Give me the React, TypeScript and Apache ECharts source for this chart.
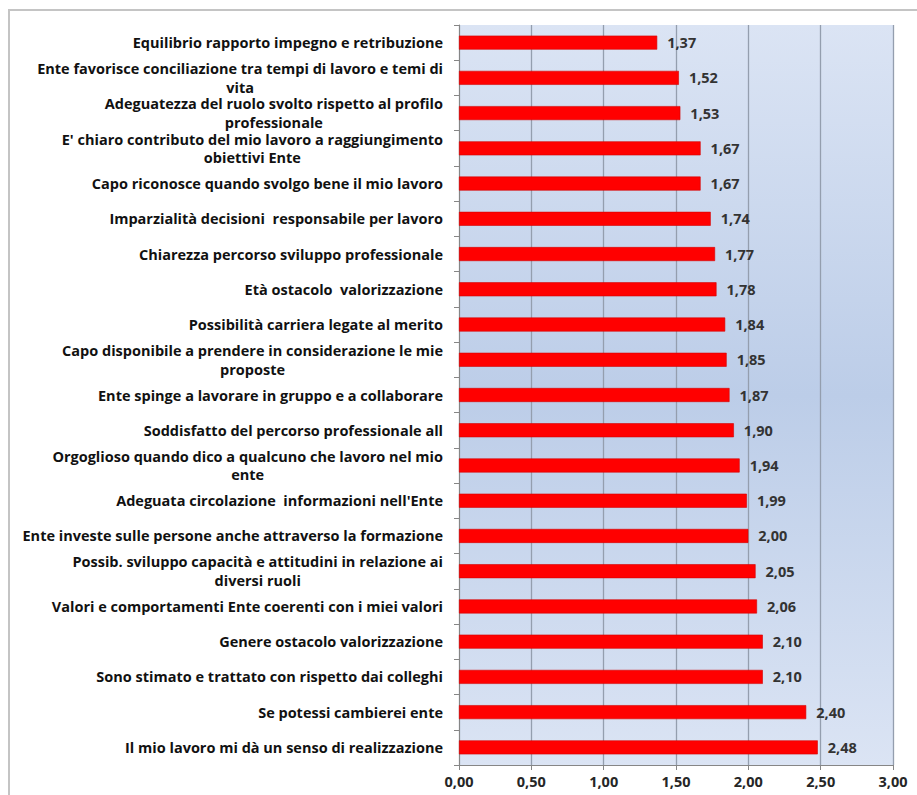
import React, { useEffect, useRef } from "react";
import * as echarts from "echarts";

const categories: string[] = [
  "Equilibrio rapporto impegno e retribuzione",
  "Ente favorisce conciliazione tra tempi di lavoro e temi di\nvita",
  "Adeguatezza del ruolo svolto rispetto al profilo\nprofessionale",
  "E' chiaro contributo del mio lavoro a raggiungimento\nobiettivi Ente",
  "Capo riconosce quando svolgo bene il mio lavoro",
  "Imparzialità decisioni  responsabile per lavoro",
  "Chiarezza percorso sviluppo professionale",
  "Età ostacolo  valorizzazione",
  "Possibilità carriera legate al merito",
  "Capo disponibile a prendere in considerazione le mie\nproposte",
  "Ente spinge a lavorare in gruppo e a collaborare",
  "Soddisfatto del percorso professionale all",
  "Orgoglioso quando dico a qualcuno che lavoro nel mio\nente",
  "Adeguata circolazione  informazioni nell'Ente",
  "Ente investe sulle persone anche attraverso la formazione",
  "Possib. sviluppo capacità e attitudini in relazione ai\ndiversi ruoli",
  "Valori e comportamenti Ente coerenti con i miei valori",
  "Genere ostacolo valorizzazione",
  "Sono stimato e trattato con rispetto dai colleghi",
  "Se potessi cambierei ente",
  "Il mio lavoro mi dà un senso di realizzazione",
];

const values: number[] = [
  1.37, 1.52, 1.53, 1.67, 1.67, 1.74, 1.77, 1.78, 1.84, 1.85, 1.87, 1.9, 1.94,
  1.99, 2.0, 2.05, 2.06, 2.1, 2.1, 2.4, 2.48,
];

const xMin = 0;
const xMax = 3;
const xStep = 0.5;

const fmt = (v: number) => v.toFixed(2).replace(".", ",");

const FONT = "'Open Sans', Lato, sans-serif";

export default function App() {
  const ref = useRef<HTMLDivElement>(null);
  useEffect(() => {
    if (!ref.current) return;
    const chart = echarts.init(ref.current, undefined, { renderer: "svg" });
    chart.setOption({
      animation: false,
      backgroundColor: "#ffffff",
      grid: { left: 459, right: 24, top: 25, bottom: 30, containLabel: false },
      xAxis: {
        type: "value",
        min: xMin,
        max: xMax,
        interval: xStep,
        axisLine: { show: true, lineStyle: { color: "#868686", width: 1 } },
        axisTick: { show: true, length: 5, lineStyle: { color: "#868686" } },
        splitLine: { show: true, lineStyle: { color: "#949eae", width: 1.3 } },
        axisLabel: {
          formatter: (v: number) => fmt(v),
          color: "#262626",
          fontFamily: FONT,
          fontWeight: "bold",
          fontSize: 14.5,
          margin: 9,
        },
      },
      yAxis: {
        type: "category",
        data: categories,
        inverse: true,
        axisLine: { show: true, lineStyle: { color: "#868686", width: 1 } },
        axisTick: { show: true, length: 5, lineStyle: { color: "#868686" } },
        axisLabel: {
          margin: 16,
          align: "right",
          formatter: (v: string) =>
            v
              .split("\n")
              .map((l) => `{c|${l}}`)
              .join("\n"),
          rich: {
            c: {
              align: "center",
              fontFamily: FONT,
              fontWeight: "bold",
              fontSize: 14.5,
              color: "#111111",
              lineHeight: 18.5,
            },
          },
        },
      },
      series: [
        {
          type: "bar",
          data: values,
          barWidth: 14,
          itemStyle: {
            color: "#ff0000",
            borderColor: "#d40000",
            borderWidth: 0.6,
          },
          label: {
            show: true,
            position: "right",
            distance: 10,
            formatter: (p: any) => fmt(p.value),
            color: "#333333",
            fontFamily: FONT,
            fontWeight: "bold",
            fontSize: 14.5,
          },
        },
      ],
    });
    const gridRect = (chart as any)
      .getModel()
      .getComponent("grid")
      .coordinateSystem.getRect();
    chart.setOption({
      graphic: [
        {
          type: "rect",
          shape: { x: 9, y: 10, width: 940, height: 820 },
          style: { fill: "none", stroke: "#c4c4c4", lineWidth: 2 },
          silent: true,
          z: -10,
        },
        {
          type: "rect",
          shape: {
            x: gridRect.x,
            y: gridRect.y,
            width: gridRect.width,
            height: gridRect.height,
          },
          style: {
            fill: new echarts.graphic.LinearGradient(0, 0, 0, 1, [
              { offset: 0, color: "#dbe4f4" },
              { offset: 0.5, color: "#bccde8" },
              { offset: 1, color: "#dbe4f4" },
            ]),
          },
          silent: true,
          z: -5,
        },
      ],
    });
    return () => chart.dispose();
  }, []);
  return (
    <div
      ref={ref}
      style={{ position: "fixed", left: 0, top: 0, width: 917, height: 795 }}
    />
  );
}
